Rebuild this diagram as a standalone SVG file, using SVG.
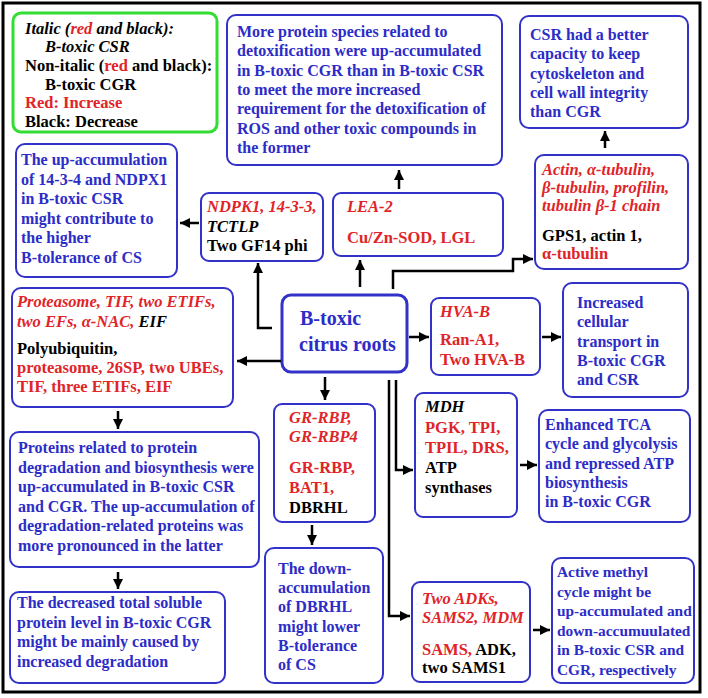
<svg xmlns="http://www.w3.org/2000/svg" width="708" height="698" viewBox="0 0 708 698">
<style>
.b{fill:#fff;stroke:#3232c8;stroke-width:2}
.t{font-family:"Liberation Serif","Times New Roman",serif;font-weight:bold;font-size:16.5px}
.bl{fill:#2c2cc8;font-size:16px}
.sm{font-size:15.4px}
.r{fill:#e02428}
.k{fill:#000}
.i{font-style:italic}
.c{stroke:#000;stroke-width:2.5;fill:none}
</style>
<defs>
<marker id="ah" markerUnits="userSpaceOnUse" markerWidth="11" markerHeight="11" refX="10" refY="5" orient="auto">
<path d="M0,0 L10,5 L0,10 z" fill="#000"/>
</marker>
</defs>
<rect x="0" y="0" width="708" height="698" fill="#fff"/>
<rect x="3" y="3" width="697" height="689" fill="none" stroke="#000" stroke-width="3"/>

<g id="legend">
<rect x="13" y="13" width="204" height="119" rx="8" fill="#fff" stroke="#33dd33" stroke-width="3"/>
<text class="t i k" x="25" y="33.5">Italic (<tspan class="r">red</tspan> and black):</text>
<text class="t i k" x="45" y="52.2">B-toxic CSR</text>
<text class="t k" x="25" y="70.9">Non-italic (<tspan class="r">red</tspan> and black):</text>
<text class="t k" x="45" y="89.6">B-toxic CGR</text>
<text class="t r" x="25" y="108.3">Red: Increase</text>
<text class="t k" x="25" y="127">Black: Decrease</text>
</g>

<g id="detox">
<rect class="b" x="227" y="15" width="275" height="150" rx="9"/>
<text class="t bl" x="237" y="37">More protein species related to</text>
<text class="t bl" x="237" y="56.3">detoxification were up-accumulated</text>
<text class="t bl" x="237" y="75.6">in B-toxic CGR than in B-toxic CSR</text>
<text class="t bl" x="237" y="94.9">to meet the more increased</text>
<text class="t bl" x="237" y="114.2">requirement for the detoxification of</text>
<text class="t bl" x="237" y="133.5">ROS and other toxic compounds in</text>
<text class="t bl" x="237" y="152.8">the former</text>
</g>

<g id="cytoskeleton">
<rect class="b" x="520" y="16" width="168" height="112" rx="9"/>
<text class="t bl" x="530" y="40">CSR had a better</text>
<text class="t bl" x="530" y="59.3">capacity to keep</text>
<text class="t bl" x="530" y="78.6">cytoskeleton and</text>
<text class="t bl" x="530" y="97.9">cell wall integrity</text>
<text class="t bl" x="530" y="117.2">than CGR</text>
</g>

<g id="tolerance">
<rect class="b" x="16" y="144" width="161" height="133" rx="9"/>
<text class="t bl" x="21" y="165">The up-accumulation</text>
<text class="t bl" x="21" y="184.5">of 14-3-4 and NDPX1</text>
<text class="t bl" x="21" y="204">in B-toxic CSR</text>
<text class="t bl" x="21" y="223.5">might contribute to</text>
<text class="t bl" x="21" y="243">the higher</text>
<text class="t bl" x="21" y="262.5">B-tolerance of CS</text>
</g>

<g id="ndpk">
<rect class="b" x="201" y="193" width="122" height="68" rx="8"/>
<text class="t i r" x="207" y="212">NDPK1, 14-3-3,</text>
<text class="t i k" x="207" y="231.5">TCTLP</text>
<text class="t k" x="207" y="251">Two GF14 phi</text>
</g>

<g id="lea">
<rect class="b" x="333" y="193" width="170" height="63" rx="8"/>
<text class="t i r" x="347" y="212">LEA-2</text>
<text class="t r" x="347" y="243">Cu/Zn-SOD, LGL</text>
</g>

<g id="actin">
<rect class="b" x="535" y="155" width="153" height="114" rx="9"/>
<text class="t i r" x="542" y="175">Actin, α-tubulin,</text>
<text class="t i r" x="542" y="193">β-tubulin, profilin,</text>
<text class="t i r" x="542" y="211">tubulin β-1 chain</text>
<text class="t k" x="542" y="241">GPS1, actin 1,</text>
<text class="t r" x="542" y="259">α-tubulin</text>
</g>

<g id="center">
<rect x="282" y="295" width="125" height="77" rx="9" fill="#fff" stroke="#3232c8" stroke-width="3"/>
<text class="t bl" x="300" y="325" style="font-size:20px">B-toxic</text>
<text class="t bl" x="299" y="351" style="font-size:20px">citrus roots</text>
</g>

<g id="proteasome">
<rect class="b" x="12" y="288" width="221" height="119" rx="9"/>
<text class="t i r" x="17" y="307">Proteasome, TIF, two ETIFs,</text>
<text class="t i r" x="17" y="327">two EFs, α-NAC, <tspan class="k">EIF</tspan></text>
<text class="t k" x="17" y="354">Polyubiquitin,</text>
<text class="t r" x="17" y="373">proteasome, 26SP, two UBEs,</text>
<text class="t r" x="17" y="392">TIF, three ETIFs, EIF</text>
</g>

<g id="hva">
<rect class="b" x="431" y="298" width="109" height="77" rx="8"/>
<text class="t i r" x="440" y="317">HVA-B</text>
<text class="t r" x="440" y="345">Ran-A1,</text>
<text class="t r" x="440" y="365">Two HVA-B</text>
</g>

<g id="transport">
<rect class="b" x="563" y="283" width="125" height="114" rx="9"/>
<text class="t bl" x="577" y="308">Increased</text>
<text class="t bl" x="577" y="327.3">cellular</text>
<text class="t bl" x="577" y="346.6">transport in</text>
<text class="t bl" x="577" y="365.9">B-toxic CGR</text>
<text class="t bl" x="577" y="385.2">and CSR</text>
</g>

<g id="mdh">
<rect class="b" x="415" y="393" width="102" height="124" rx="8"/>
<text class="t i k" x="425" y="412">MDH</text>
<text class="t r" x="425" y="433">PGK, TPI,</text>
<text class="t r" x="425" y="453">TPIL, DRS,</text>
<text class="t k" x="425" y="473">ATP</text>
<text class="t k" x="425" y="493">synthases</text>
</g>

<g id="tca">
<rect class="b" x="539" y="410" width="151" height="112" rx="9"/>
<text class="t bl" x="545" y="430">Enhanced TCA</text>
<text class="t bl" x="545" y="449.3">cycle and glycolysis</text>
<text class="t bl" x="545" y="468.6">and repressed ATP</text>
<text class="t bl" x="545" y="487.9">biosynthesis</text>
<text class="t bl" x="545" y="507.2">in B-toxic CGR</text>
</g>

<g id="grrbp">
<rect class="b" x="274" y="404" width="101" height="118" rx="8"/>
<text class="t i r" x="289" y="423">GR-RBP,</text>
<text class="t i r" x="289" y="442">GR-RBP4</text>
<text class="t r" x="289" y="473">GR-RBP,</text>
<text class="t r" x="289" y="493">BAT1,</text>
<text class="t k" x="289" y="513">DBRHL</text>
</g>

<g id="synthesis">
<rect class="b" x="10" y="432" width="249" height="135" rx="9"/>
<text class="t bl" x="18" y="453">Proteins related to protein</text>
<text class="t bl" x="18" y="472.5">degradation and biosynthesis were</text>
<text class="t bl" x="18" y="492">up-accumulated in B-toxic CSR</text>
<text class="t bl" x="18" y="511.5">and CGR. The up-accumulation of</text>
<text class="t bl" x="18" y="531">degradation-related proteins was</text>
<text class="t bl" x="18" y="550.5">more pronounced in the latter</text>
</g>

<g id="soluble">
<rect class="b" x="10" y="592" width="215" height="91" rx="9"/>
<text class="t bl" x="17" y="608">The decreased total soluble</text>
<text class="t bl" x="17" y="627.5">protein level in B-toxic CGR</text>
<text class="t bl" x="17" y="647">might be mainly caused by</text>
<text class="t bl" x="17" y="666.5">increased degradation</text>
</g>

<g id="dbrhl">
<rect class="b" x="265" y="548" width="118" height="135" rx="9"/>
<text class="t bl" x="278" y="574">The down-</text>
<text class="t bl" x="278" y="593.2">accumulation</text>
<text class="t bl" x="278" y="612.4">of DBRHL</text>
<text class="t bl" x="278" y="631.6">might lower</text>
<text class="t bl" x="278" y="650.8">B-tolerance</text>
<text class="t bl" x="278" y="670">of CS</text>
</g>

<g id="sams">
<rect class="b" x="412" y="582" width="118" height="100" rx="8"/>
<text class="t i r" x="422" y="604">Two ADKs,</text>
<text class="t i r" x="422" y="623">SAMS2, MDM</text>
<text class="t r" x="422" y="655">SAMS, <tspan class="k">ADK,</tspan></text>
<text class="t k" x="422" y="673">two SAMS1</text>
</g>

<g id="methyl">
<rect class="b" x="552" y="558" width="142" height="125" rx="9"/>
<text class="t bl sm" x="557" y="577">Active methyl</text>
<text class="t bl sm" x="557" y="596.6">cycle might be</text>
<text class="t bl sm" x="557" y="616.2">up-accumulated and</text>
<text class="t bl sm" x="557" y="635.8">down-accumuulated</text>
<text class="t bl sm" x="557" y="655.4">in B-toxic CSR and</text>
<text class="t bl sm" x="557" y="675">CGR, respectively</text>
</g>

<g id="connectors">
<path class="c" d="M399,189 V170" marker-end="url(#ah)"/>
<path class="c" d="M360,287 V260" marker-end="url(#ah)"/>
<path class="c" d="M272,328 H258 V263" marker-end="url(#ah)"/>
<path class="c" d="M199,223 H180" marker-end="url(#ah)"/>
<path class="c" d="M393,289 V271 H513 V259 H533" marker-end="url(#ah)"/>
<path class="c" d="M605,148 V131" marker-end="url(#ah)"/>
<path class="c" d="M281,361 H237" marker-end="url(#ah)"/>
<path class="c" d="M409,337 H429" marker-end="url(#ah)"/>
<path class="c" d="M542,337 H561" marker-end="url(#ah)"/>
<path class="c" d="M325,377 V400" marker-end="url(#ah)"/>
<path class="c" d="M312,525 V545" marker-end="url(#ah)"/>
<path class="c" d="M396,380 V470 H413" marker-end="url(#ah)"/>
<path class="c" d="M389,380 V616 H410" marker-end="url(#ah)"/>
<path class="c" d="M520,465 H537" marker-end="url(#ah)"/>
<path class="c" d="M533,630 H550" marker-end="url(#ah)"/>
<path class="c" d="M118,411 V429" marker-end="url(#ah)"/>
<path class="c" d="M118,572 V589" marker-end="url(#ah)"/>
</g>
</svg>
